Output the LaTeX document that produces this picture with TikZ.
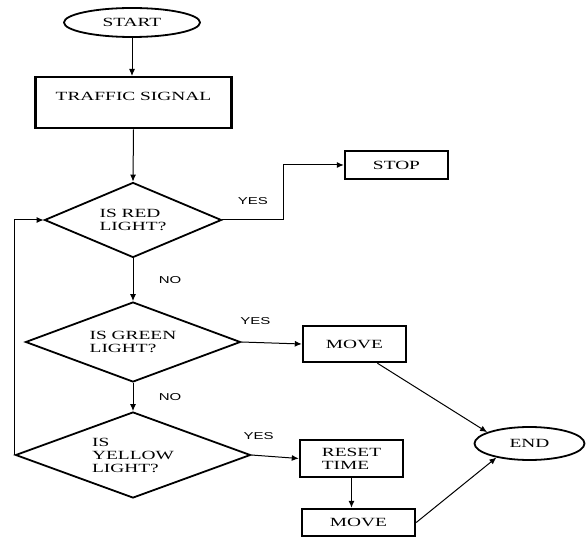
\documentclass[tikz,border=0pt]{standalone}
\usepackage{fontspec}
\setmainfont{Liberation Serif}[FakeStretch=1.55]
\newfontfamily\labelfont{Liberation Sans}[FakeStretch=1.5]
\usetikzlibrary{shapes.geometric,arrows.meta}

\tikzset{
  terminal/.style={ellipse, draw, line width=1.8pt, inner sep=0pt},
  process/.style={rectangle, draw, line width=2.4pt, inner sep=0pt, align=center},
  decision/.style={diamond, draw, line width=1.8pt, inner sep=0pt, aspect=2.5, align=left},
  flow/.style={line width=1pt, -{Latex[length=7pt,width=6pt]}},
  answer/.style={font=\labelfont\fontsize{10}{12}\selectfont},
}

\begin{document}
\begin{tikzpicture}[x=1pt, y=-1pt, font=\fontsize{12.5}{13}\selectfont]
\useasboundingbox (0,0) rectangle (586,537);

  \node[terminal, minimum width=136pt, minimum height=29pt] (start) at (132,22.5) {START};
  \node[process, minimum width=196pt, text height=23pt, text depth=28pt, anchor=north] (signal) at (133.5,76) {TRAFFIC SIGNAL};

  \node[decision, minimum width=177pt, minimum height=75pt] (red) at (133,220) {IS RED\\LIGHT?};
  \node[decision, minimum width=215pt, minimum height=80pt] (green) at (133,342) {IS GREEN\\LIGHT?};
  \node[decision, minimum width=235pt, minimum height=86pt] (yellow) at (133,455) {IS\\YELLOW\\LIGHT?};

  \node[process, minimum width=103pt, minimum height=28pt] (stop) at (396.5,165) {STOP};
  \node[process, minimum width=103pt, minimum height=36pt] (move) at (354.5,344) {MOVE};
  \node[process, minimum width=103pt, minimum height=37pt, align=left] (reset) at (351.5,458.5) {RESET\\TIME};
  \node[process, minimum width=113pt, minimum height=27pt] (movetwo) at (358.5,522.5) {MOVE};
  \node[terminal, minimum width=110pt, minimum height=33pt] (end) at (529.5,443.5) {END};

  \draw[flow] (start) -- (start |- signal.north);
  \draw[flow] (signal.south) -- (red.north);
  \draw[flow] (red.south) -- node[answer, right=22pt] {NO} (green.north);
  \draw[flow] (green.south) -- node[answer, right=22pt] {NO} (yellow.north);
  \draw[flow] (red.east) -- node[answer, above=12pt] {YES} ++(61,0) |- (stop.west);
  \draw[flow] (green.east) -- node[answer, above=14pt, pos=0.23] {YES} (move.west);
  \draw[flow] (yellow.east) -- node[answer, above=12pt, pos=0.15] {YES} (reset.west);
  \draw[flow] (yellow.west) -- (yellow.west |- red.west) -- (red.west);
  \draw[flow] (reset) -- (reset |- movetwo.north);
  \draw[flow] (move.-40) -- (end.165);
  \draw[flow] (movetwo.east) -- (end.203);
\end{tikzpicture}
\end{document}
